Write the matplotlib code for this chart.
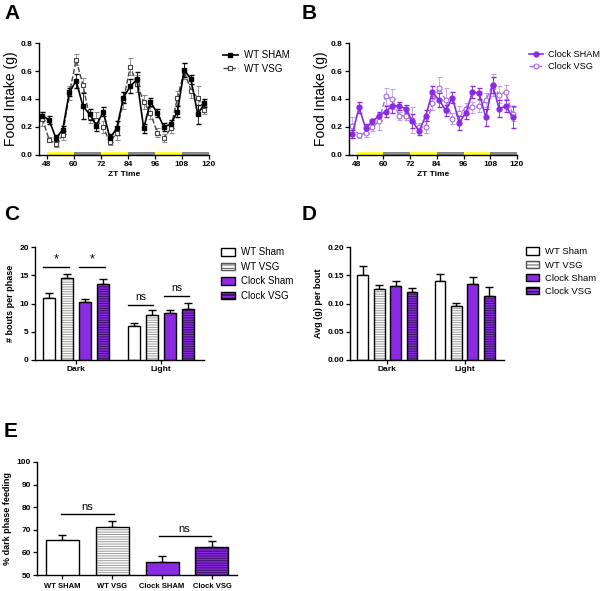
import numpy as np
import matplotlib
matplotlib.use("Agg")
import matplotlib.pyplot as plt
from matplotlib.patches import Patch

plt.rcParams['font.family'] = ['Liberation Sans', 'DejaVu Sans']
plt.rcParams['hatch.linewidth'] = 0.7

# ---- data: panels A/B (food intake every 3 h)
zt = [46, 49, 52, 55, 58, 61, 64, 67, 70, 73, 76, 79, 82, 85, 88, 91, 94, 97, 100, 103, 106, 109, 112, 115, 118]
wt_sham = [0.28, 0.25, 0.12, 0.18, 0.45, 0.53, 0.35, 0.29, 0.21, 0.31, 0.12, 0.19, 0.41, 0.49, 0.54, 0.19, 0.38, 0.30, 0.20, 0.22, 0.31, 0.61, 0.54, 0.29, 0.37]
wt_sham_err = [0.03, 0.03, 0.02, 0.03, 0.03, 0.05, 0.09, 0.04, 0.04, 0.03, 0.03, 0.05, 0.04, 0.05, 0.05, 0.03, 0.03, 0.03, 0.03, 0.03, 0.04, 0.05, 0.03, 0.07, 0.03]
wt_vsg = [0.26, 0.11, 0.08, 0.14, 0.44, 0.68, 0.50, 0.27, 0.25, 0.20, 0.09, 0.16, 0.39, 0.63, 0.51, 0.38, 0.30, 0.16, 0.12, 0.19, 0.41, 0.60, 0.46, 0.41, 0.32]
wt_vsg_err = [0.05, 0.02, 0.02, 0.03, 0.05, 0.04, 0.05, 0.04, 0.06, 0.04, 0.02, 0.05, 0.06, 0.06, 0.06, 0.05, 0.04, 0.03, 0.03, 0.03, 0.05, 0.06, 0.05, 0.08, 0.03]
clock_sham = [0.15, 0.34, 0.19, 0.24, 0.28, 0.31, 0.35, 0.35, 0.33, 0.24, 0.17, 0.28, 0.45, 0.39, 0.32, 0.41, 0.23, 0.30, 0.45, 0.44, 0.27, 0.50, 0.33, 0.35, 0.27]
clock_sham_err = [0.03, 0.04, 0.03, 0.02, 0.03, 0.04, 0.05, 0.03, 0.03, 0.05, 0.03, 0.04, 0.04, 0.05, 0.04, 0.04, 0.05, 0.04, 0.04, 0.04, 0.06, 0.06, 0.06, 0.04, 0.08]
clock_vsg = [0.21, 0.14, 0.16, 0.20, 0.24, 0.42, 0.40, 0.28, 0.28, 0.25, 0.20, 0.20, 0.37, 0.48, 0.39, 0.26, 0.30, 0.33, 0.34, 0.35, 0.39, 0.50, 0.43, 0.45, 0.29]
clock_vsg_err = [0.06, 0.02, 0.03, 0.03, 0.06, 0.06, 0.07, 0.03, 0.03, 0.09, 0.03, 0.04, 0.05, 0.08, 0.09, 0.04, 0.05, 0.04, 0.04, 0.04, 0.05, 0.08, 0.06, 0.05, 0.05]

# light/dark phases under the x axis
phase_starts = [48, 60, 72, 84, 96, 108]
phase_colors = ['#ffff33', '#888888', '#ffff33', '#888888', '#ffff33', '#888888']

# ---- data: panels C/D
groups = ['Dark', 'Light']
bar_names = ['WT Sham', 'WT VSG', 'Clock Sham', 'Clock VSG']
bouts = [[11.0, 6.0], [14.6, 7.9], [10.2, 8.3], [13.4, 9.1]]
bouts_err = [[0.8, 0.5], [0.6, 0.9], [0.6, 0.5], [0.9, 1.0]]
avg_bout = [[0.151, 0.140], [0.126, 0.095], [0.131, 0.135], [0.120, 0.114]]
avg_bout_err = [[0.016, 0.013], [0.007, 0.006], [0.009, 0.012], [0.007, 0.015]]

# ---- data: panel E
e_names = ['WT SHAM', 'WT VSG', 'Clock SHAM', 'Clock VSG']
dark_pct = [65.3, 71.2, 55.8, 62.6]
dark_pct_err = [2.5, 2.8, 2.4, 2.3]

PURPLE = '#8a2be2'
LPURPLE = '#a468ea'

W, H = 600, 591
fig = plt.figure(figsize=(6, 5.91), dpi=100)


def ax_px(left, top, right, bottom):
    return fig.add_axes([left / W, 1 - bottom / H, (right - left) / W, (bottom - top) / H])


def style(ax):
    for s in ['top', 'right']:
        ax.spines[s].set_visible(False)
    for s in ['left', 'bottom']:
        ax.spines[s].set_linewidth(1.0)
    ax.tick_params(length=3, width=0.9, labelsize=6, pad=1.5)
    for lab in ax.get_xticklabels() + ax.get_yticklabels():
        lab.set_fontweight('bold')


def line_panel(ax, s1, e1, s2, e2, c1, c2, ec2, mk1, mk2, names, leg_x, leg_fs):
    ax.errorbar(zt, s2, yerr=e2, color=c2, ecolor=ec2, ls='--', lw=1.0, marker=mk2,
                ms=3.5, mfc='white', mec=c2, mew=0.8, capsize=1.8, elinewidth=0.6, label=names[1])
    ax.errorbar(zt, s1, yerr=e1, color=c1, ecolor=c1, ls='-', lw=1.2, marker=mk1,
                ms=3.5, capsize=1.8, elinewidth=0.6, label=names[0])
    for st, col in zip(phase_starts, phase_colors):
        ax.fill_between([st, st + 12], 0, 0.022, color=col, lw=0)
    ax.set_xlim(44.5, 120)
    ax.set_ylim(0, 0.8)
    ax.set_xticks([48, 60, 72, 84, 96, 108, 120])
    ax.set_yticks([0.0, 0.2, 0.4, 0.6, 0.8])
    ax.set_yticklabels(['0.0', '0.2', '0.4', '0.6', '0.8'])
    ax.set_ylabel('Food Intake (g)', fontsize=10, labelpad=2)
    ax.set_xlabel('ZT Time', fontsize=6, fontweight='bold', labelpad=2)
    style(ax)
    h, l = ax.get_legend_handles_labels()
    h = [x[0] for x in h]
    ax.legend(h[::-1], l[::-1], loc='upper left', bbox_to_anchor=(leg_x, 0.97), frameon=False,
              fontsize=leg_fs, handlelength=1.5, handletextpad=0.6, labelspacing=0.35, borderaxespad=0)


# Panel A
axA = ax_px(39, 43, 209, 155)
line_panel(axA, wt_sham, wt_sham_err, wt_vsg, wt_vsg_err, 'black', '#444444', '#888888', 's', 's',
           ['WT SHAM', 'WT VSG'], 1.06, 7)

# Panel B
axB = ax_px(349, 43, 517, 155)
line_panel(axB, clock_sham, clock_sham_err, clock_vsg, clock_vsg_err, PURPLE, LPURPLE, '#c3a0ee', 'o', 'o',
           ['Clock SHAM', 'Clock VSG'], 1.05, 6.6)


def draw_bar(ax, x, h, w, style_i, err):
    if style_i == 0:
        ax.bar(x, h, w, color='white', edgecolor='black', lw=1.0, zorder=2)
    elif style_i == 1:
        ax.bar(x, h, w, color='white', edgecolor='#9a9a9a', lw=0, hatch='-------', zorder=2)
        ax.bar(x, h, w, color='none', edgecolor='black', lw=1.0, zorder=3)
    elif style_i == 2:
        ax.bar(x, h, w, color=PURPLE, edgecolor='black', lw=1.0, zorder=2)
    else:
        ax.bar(x, h, w, color=PURPLE, edgecolor='#3a1060', lw=0, hatch='-------', zorder=2)
        ax.bar(x, h, w, color='none', edgecolor='black', lw=1.0, zorder=3)
    ax.errorbar([x], [h], yerr=[[0], [err]], fmt='none', ecolor='black', elinewidth=1.0,
                capsize=3, capthick=1.0, zorder=1)


def bar_panel(ax, vals, errs, ylim, yticks, ytl, ylabel, leg_x, leg_fs):
    offs = [-1.5, -0.5, 0.5, 1.5]
    for i in range(4):
        for g in range(2):
            draw_bar(ax, g + offs[i] * 0.2125, vals[i][g], 0.142, i, errs[i][g])
    ax.set_xlim(-0.484, 1.51)
    ax.set_ylim(*ylim)
    ax.set_xticks([0, 1])
    ax.set_xticklabels(groups)
    ax.set_yticks(yticks)
    ax.set_yticklabels(ytl)
    ax.set_ylabel(ylabel, fontsize=6.5, fontweight='bold', labelpad=3)
    style(ax)
    hs = [Patch(facecolor='white', edgecolor='black', lw=1.0),
          Patch(facecolor='white', edgecolor='#555555', hatch='-----', lw=1.0),
          Patch(facecolor=PURPLE, edgecolor='black', lw=1.0),
          Patch(facecolor=PURPLE, edgecolor='black', hatch='-----', lw=1.0)]
    ax.legend(hs, bar_names, loc='upper left', bbox_to_anchor=(leg_x, 1.03), frameon=False,
              fontsize=leg_fs, handlelength=1.4, handleheight=0.8, handletextpad=0.6,
              labelspacing=0.45, borderaxespad=0)


# Panel C
axC = ax_px(35, 247, 204, 360)
bar_panel(axC, bouts, bouts_err, (0, 20), [0, 5, 10, 15, 20], ['0', '5', '10', '15', '20'],
          '# bouts per phase', 1.08, 7)
sigC = [(0, 0, 1, 16.5, '*'), (0, 2, 3, 16.5, '*'), (1, 0, 1, 9.7, 'ns'), (1, 2, 3, 11.3, 'ns')]
offs = [-1.5, -0.5, 0.5, 1.5]
for g, a, b, y, t in sigC:
    x0 = g + offs[a] * 0.2125 - 0.07
    x1 = g + offs[b] * 0.2125 + 0.02
    axC.plot([x0, x1], [y, y], color='black', lw=1.0)
    axC.text((x0 + x1) / 2, y + (0.2 if t == '*' else 0.5), t, ha='center', va='bottom',
             fontsize=9 if t == '*' else 7.5)

# Panel D
axD = ax_px(350, 247, 504, 360)
bar_panel(axD, avg_bout, avg_bout_err, (0, 0.2), [0, 0.05, 0.10, 0.15, 0.20],
          ['0.00', '0.05', '0.10', '0.15', '0.20'], 'Avg (g) per bout', 1.12, 6.8)

# Panel E
axE = ax_px(37, 462, 237, 575)
for i in range(4):
    draw_bar(axE, i, dark_pct[i], 0.66, i, dark_pct_err[i])
axE.set_xlim(-0.5, 3.5)
axE.set_ylim(50, 100)
axE.set_xticks([0, 1, 2, 3])
axE.set_xticklabels(e_names)
axE.set_yticks([50, 60, 70, 80, 90, 100])
axE.set_ylabel('% dark phase feeding', fontsize=6.5, fontweight='bold', labelpad=3)
style(axE)
axE.tick_params(axis='x', pad=3, labelsize=5.5)
for x0, x1, y in [(-0.03, 1.03, 76.9), (1.93, 2.97, 67.2)]:
    axE.plot([x0, x1], [y, y], color='black', lw=1.0)
    axE.text((x0 + x1) / 2, y + 0.8, 'ns', ha='center', va='bottom', fontsize=8)

# panel letters
for lab, x, y in [('A', 4, 4), ('B', 302, 4), ('C', 4, 205), ('D', 302, 205), ('E', 4, 422)]:
    fig.text(x / W, 1 - y / H, lab, fontsize=15, fontweight='bold', ha='left', va='top')

fig.savefig('out.png', dpi=100)
